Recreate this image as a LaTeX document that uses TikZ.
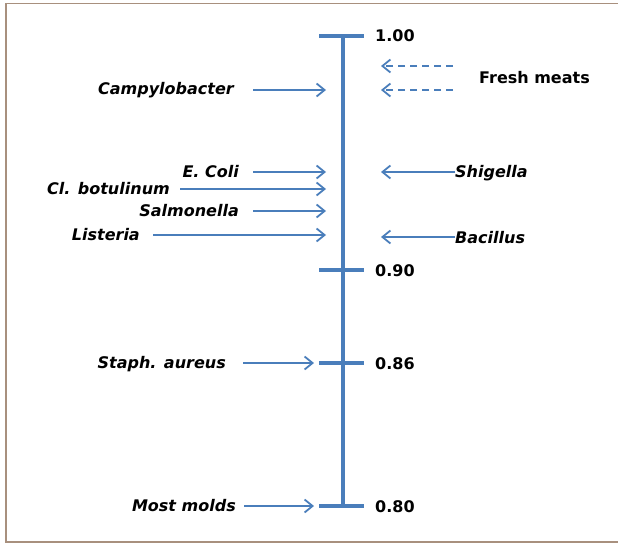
\documentclass[tikz,border=0pt]{standalone}
\usepackage{fontspec}
\setmainfont{DejaVu Sans}
\usetikzlibrary{arrows.meta}
\definecolor{axisblue}{HTML}{4A7EBB}
\definecolor{framec}{HTML}{A8907E}
\begin{document}
\begin{tikzpicture}[x=1pt,y=-1pt,
  lbl/.style={font=\fontsize{16}{18}\selectfont\bfseries\itshape, inner sep=0pt, text=black},
  num/.style={font=\fontsize{16}{18}\selectfont\bfseries, inner sep=0pt, anchor=base west, text=black},
  axisline/.style={draw=axisblue, line width=3.2pt},
  arr/.style={draw=axisblue, line width=2pt, -{Straight Barb[length=8pt,width=13pt,line width=1.8pt]}},
  darr/.style={arr, dash pattern=on 7pt off 5pt}]
\useasboundingbox (0,0) rectangle (618,543);
\draw[framec, line width=1.8pt] (618,3.5) -- (6,3.5) -- (6,542) -- (618,542);
% axis
\coordinate (top) at (343,36);
\coordinate (bot) at (343,506);
\draw[axisline] (top) -- (bot);
\draw[axisline] (319,36) -- (364,36);
\draw[axisline] (319,270) -- (364,270);
\draw[axisline] (319,363) -- (364,363);
\draw[axisline] (319,506) -- (364,506);
\node[num] (n100) at (375,42) {1.00};
\node[num] (n090) at (375,276) {0.90};
\node[num] (n086) at (375,369) {0.86};
\node[num] (n080) at (375,512) {0.80};
% left labels
\node[lbl, anchor=base east] (campy) at (234,94) {Campylobacter};
\node[lbl, anchor=base east] (ecoli) at (239,177) {E. Coli};
\node[lbl, anchor=base east] (clbot) at (170,194) {Cl. botulinum};
\node[lbl, anchor=base east] (salm) at (239,216) {Salmonella};
\node[lbl, anchor=base east] (list) at (140,240) {Listeria};
\node[lbl, anchor=base east] (staph) at (226,368.5) {Staph. aureus};
\node[lbl, anchor=base east] (molds) at (236,511.5) {Most molds};
% right labels
\node[lbl, anchor=base west] (shig) at (455,177) {Shigella};
\node[lbl, anchor=base west] (bac) at (455,243) {Bacillus};
\node[font=\fontsize{16}{18}\selectfont\bfseries, inner sep=0pt, anchor=base west, text=black] (fresh) at (479,83) {Fresh meats};
% arrow endpoints
\coordinate (aCampy) at (326,90);
\coordinate (aEcoli) at (326,172);
\coordinate (aClbot) at (326,189);
\coordinate (aSalm) at (326,211);
\coordinate (aList) at (326,235);
\coordinate (aStaph) at (314,363);
\coordinate (aMolds) at (314,506);
\coordinate (aShig) at (381,172);
\coordinate (aBac) at (381,237);
\coordinate (aF1) at (381,66);
\coordinate (aF2) at (381,90);
\coordinate (sF1) at (453,66);
\coordinate (sF2) at (453,90);
% arrows
\draw[arr] (campy.east |- aCampy) ++(19,0) -- (aCampy);
\draw[arr] (ecoli.east |- aEcoli) ++(14,0) -- (aEcoli);
\draw[arr] (clbot.east |- aClbot) ++(10,0) -- (aClbot);
\draw[arr] (salm.east |- aSalm) ++(14,0) -- (aSalm);
\draw[arr] (list.east |- aList) ++(13,0) -- (aList);
\draw[arr] (staph.east |- aStaph) ++(17,0) -- (aStaph);
\draw[arr] (molds.east |- aMolds) ++(8,0) -- (aMolds);
\draw[arr] (shig.west |- aShig) -- (aShig);
\draw[arr] (bac.west |- aBac) -- (aBac);
\draw[darr] (sF1) -- (aF1);
\draw[darr] (sF2) -- (aF2);
\end{tikzpicture}
\end{document}
